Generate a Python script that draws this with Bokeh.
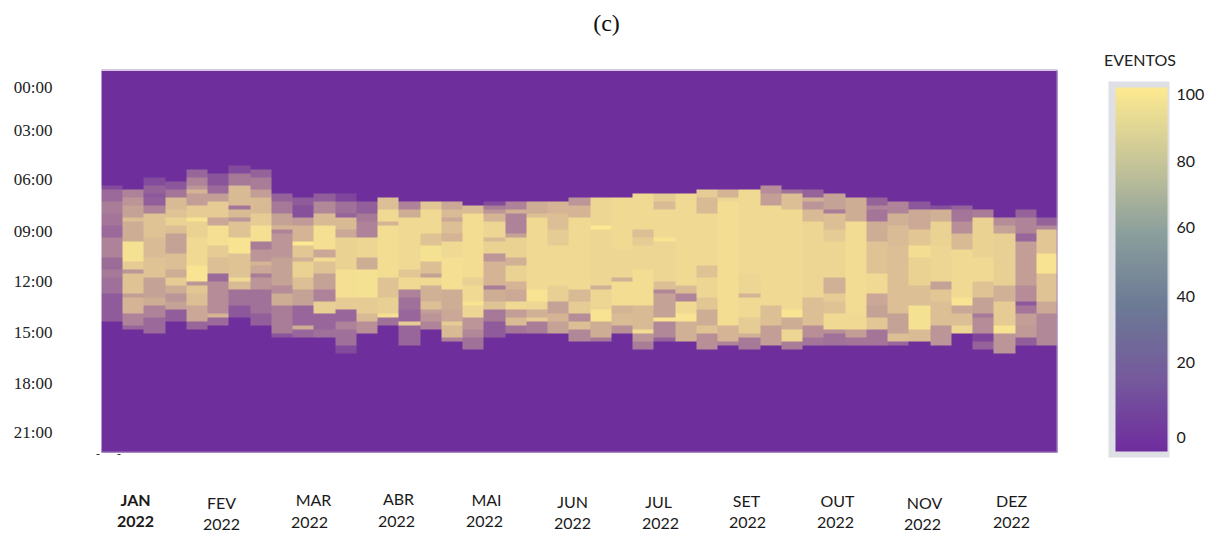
import numpy as np
from bokeh.plotting import figure
from bokeh.embed import file_html
from bokeh.resources import INLINE
from bokeh.core.properties import value
from bokeh.models import (Range1d, LinearColorMapper, ColorBar, FixedTicker, LinearAxis, ColumnDataSource)

# Each week column: first filled row (96 rows per day), then runs of (rows, events)
FIRST_ROW = [29,30,27,28,25,26,24,25,31,32,31,31,33,32,33,
             33,33,34,33,33,33,33,32,32,32,31,31,31,30,30,
             30,29,30,30,31,32,32,33,33,34,34,35,37,35,37]
W01=[(1,15),(3,32),(3,42),(3,38),(3,32),(5,45),(3,33),(2,40),(4,35),(7,24)]
W02=[(2,45),(2,55),(3,62),(1,78),(2,68),(3,68),(5,96),(2,85),(1,55),(5,80),(1,60),(4,72),(3,45),(1,30)]
W03=[(2,15),(2,28),(1,22),(2,26),(2,45),(6,80),(5,76),(5,80),(5,62),(2,68),(3,45),(4,32)]
W04=[(2,22),(2,38),(3,75),(2,80),(2,88),(2,78),(5,62),(4,78),(2,68),(2,84),(2,68),(2,55),(2,62),(3,25)]
W05=[(2,30),(2,45),(1,55),(1,72),(3,60),(3,85),(1,97),(4,88),(7,92),(4,98),(1,55),(2,82),(3,78),(4,65),(2,30)]
W06=[(3,20),(2,32),(2,60),(4,85),(2,65),(5,95),(3,85),(4,78),(2,32),(8,50),(1,72),(2,32)]
W07=[(2,15),(3,40),(5,75),(1,38),(2,75),(1,55),(4,80),(4,97),(6,80),(1,92),(2,75),(4,36),(3,22)]
W08=[(2,28),(3,42),(2,60),(4,75),(3,85),(4,95),(2,42),(3,55),(1,72),(2,65),(1,42),(3,55),(6,36),(3,26)]
W09=[(2,28),(3,40),(3,62),(1,72),(1,45),(6,55),(7,62),(2,50),(3,68),(7,42),(1,20)]
W10=[(2,24),(3,18),(2,58),(4,72),(1,100),(3,82),(1,70),(4,88),(3,78),(4,62),(5,30),(1,68),(2,30)]
W11=[(2,25),(3,48),(3,75),(6,95),(2,65),(1,93),(3,80),(4,62),(3,45),(3,86),(4,30),(2,35)]
W12=[(2,12),(3,35),(1,28),(3,75),(2,65),(8,88),(7,95),(3,85),(3,30),(2,45),(4,35),(2,15)]
W13=[(3,26),(2,40),(4,45),(5,90),(3,68),(7,96),(4,85),(2,75),(3,52)]
W14=[(3,78),(3,92),(1,72),(13,94),(5,80),(4,86),(1,95),(2,35)]
W15=[(2,45),(2,68),(13,92),(2,82),(3,92),(2,45),(3,35),(3,30),(1,85),(5,30)]
W16=[(2,82),(6,92),(3,80),(4,96),(3,78),(1,62),(2,92),(4,70),(2,78),(1,60),(2,55),(2,46)]
W17=[(2,65),(2,76),(1,65),(3,78),(2,72),(4,92),(8,95),(5,68),(3,65),(1,85),(3,75),(1,45)]
W18=[(2,76),(16,94),(2,86),(4,92),(1,97),(3,90),(3,55),(2,48),(3,36)]
W19=[(1,15),(1,42),(1,55),(2,72),(4,90),(1,75),(3,88),(2,56),(6,72),(1,42),(3,68),(2,80),(3,40),(4,24)]
W20=[(2,45),(1,70),(5,45),(1,62),(5,88),(2,70),(4,88),(2,72),(3,66),(2,92),(2,60),(2,75),(2,38)]
W21=[(3,68),(1,78),(18,92),(3,97),(2,90),(2,70),(1,85),(3,42)]
W22=[(3,72),(4,78),(4,84),(10,92),(4,86),(3,62),(2,72),(3,62)]
W23=[(2,55),(3,72),(18,92),(3,75),(3,84),(2,50),(2,78),(3,48)]
W24=[(7,90),(1,100),(14,90),(1,70),(5,90),(3,97),(4,68),(1,40)]
W25=[(13,92),(7,90),(1,70),(6,94),(2,72),(3,76),(2,52)]
W26=[(9,92),(2,78),(2,85),(6,90),(9,94),(6,75),(1,94),(2,55),(2,42)]
W27=[(2,84),(2,76),(7,92),(1,97),(10,90),(2,78),(1,48),(6,62),(1,97),(4,48),(1,28)]
W28=[(23,92),(2,76),(2,46),(3,92),(2,98),(5,70)]
W29=[(2,85),(4,75),(13,92),(3,80),(5,90),(3,82),(4,68),(2,80),(4,52)]
W30=[(2,72),(1,90),(31,94),(4,72),(1,45)]
W31=[(21,92),(5,90),(1,72),(5,92),(4,84),(1,70),(3,40)]
W32=[(2,50),(3,60),(25,92),(5,78),(5,60)]
W33=[(1,35),(4,78),(25,92),(2,98),(3,68),(3,90),(2,42)]
W34=[(2,28),(1,70),(2,55),(3,75),(19,90),(7,78),(3,52),(2,38)]
W35=[(4,62),(1,42),(4,78),(3,84),(9,90),(4,70),(2,85),(3,80),(4,92),(1,52),(3,36)]
W36=[(6,68),(23,93),(4,92),(2,60),(2,38)]
W37=[(2,28),(1,46),(3,38),(5,68),(8,80),(5,92),(3,65),(3,62),(3,82),(4,38)]
W38=[(3,46),(3,70),(5,76),(17,78),(5,62),(2,78),(1,30)]
W39=[(2,22),(5,66),(4,82),(3,94),(7,88),(5,78),(6,96),(3,76)]
W40=[(1,18),(3,70),(6,88),(9,90),(2,62),(3,82),(6,78),(5,55)]
W41=[(1,28),(3,38),(3,52),(4,75),(12,92),(2,97),(2,65),(3,78),(2,90)]
W42=[(2,42),(10,88),(6,92),(4,80),(4,62),(1,40),(4,50),(2,12),(2,28)]
W43=[(2,50),(2,62),(13,86),(4,70),(6,85),(2,97),(5,55)]
W44=[(2,28),(4,46),(2,30),(11,60),(4,50),(1,22),(2,38),(3,60),(3,58),(2,25)]
W45=[(2,28),(1,48),(6,82),(5,97),(7,80),(3,66),(8,48)]
WEEKS=[W01,W02,W03,W04,W05,W06,W07,W08,W09,W10,W11,W12,W13,W14,W15,W16,W17,W18,W19,W20,W21,W22,W23,
       W24,W25,W26,W27,W28,W29,W30,W31,W32,W33,W34,W35,W36,W37,W38,W39,W40,W41,W42,W43,W44,W45]

MONTHS=["JAN","FEV","MAR","ABR","MAI","JUN","JUL","SET","OUT","NOV","DEZ"]
YEAR="2022"
HOUR_LABELS=["00:00","03:00","06:00","09:00","12:00","15:00","18:00","21:00"]
# placement (separate from the data)
HOUR_ROWS=[4.27,15.08,27.4,40.45,53.0,65.8,78.6,91.0]
MONTH_X=[135,221,313,398,486,572,658,746,837,924,1011]
MONTH_Y=[498.5,501.5,498.5,497.5,498.5,500.5,500.5,499.5,499.5,501.5,499.5]
YEAR_X=[135,221,309,396,484,572,660,747,835,922,1011]
YEAR_Y=[521,524,522,521,521,523,523,522,522,524,522]
CBAR_TICKS=[0,22,41.5,61.5,81,100.5]
CBAR_LABELS=["0","20","40","60","80","100"]

N_ROWS,N_COLS=96,len(WEEKS)
grid=np.zeros((N_ROWS,N_COLS))
for c,(first,runs) in enumerate(zip(FIRST_ROW,WEEKS)):
    r=first
    for n,v in runs:
        grid[r:r+n,c]=v
        r+=n

def hexrgb(h): return np.array([int(h[i:i+2],16) for i in (1,3,5)],float)
def ramp(anchors,n=256):
    xs=np.linspace(0,1,len(anchors)); cols=np.array([hexrgb(a) for a in anchors])
    t=np.linspace(0,1,n)
    return ["#%02x%02x%02x"%tuple(int(round(np.interp(u,xs,cols[:,k]))) for k in range(3)) for u in t]

heat_palette=ramp(["#6e2f9d","#fbe892"])
bar_palette=ramp(["#6f2d9e","#755a9c","#6c7a95","#8b9f9c","#c8c698","#fde990"])

W,H=1216,536
FL,FR,FT,FB=101,1057,70,452
def dx(px): return (px-FL)*N_COLS/(FR-FL)
def dy(py): return (FB-py)*N_ROWS/(FB-FT)

p=figure(width=W,height=H,x_range=Range1d(dx(0),dx(W)),y_range=Range1d(dy(H),dy(0)),
         output_backend="svg",toolbar_location=None,tools="",
         x_axis_location=None,y_axis_location=None,
         min_border_left=0,min_border_right=0,min_border_top=0,min_border_bottom=0)
p.outline_line_color=None
p.grid.visible=False
mapper=LinearColorMapper(palette=heat_palette,low=0,high=100)
p.image(image=[grid[::-1]],x=0,y=0,dw=N_COLS,dh=N_ROWS,color_mapper=mapper)

# pale edges of the map
p.quad(left=dx(FL),right=dx(FR),top=dy(68.5),bottom=dy(70.5),fill_color="#d6c6e2",line_color=None)
p.quad(left=dx(FR-1),right=dx(FR),top=dy(FT),bottom=dy(FB),fill_color="#a98bc8",line_color=None)
p.quad(left=dx(FL),right=dx(FR),top=dy(FB-1),bottom=dy(FB),fill_color="#9a78bb",line_color=None)

ax=LinearAxis(fixed_location=0)
TICKS=[N_ROWS-r for r in HOUR_ROWS]
ax.ticker=FixedTicker(ticks=TICKS)
ax.major_label_overrides=dict(zip(TICKS,HOUR_LABELS))
ax.axis_line_color=None; ax.major_tick_line_color=None; ax.minor_tick_line_color=None
ax.major_label_text_font="Liberation Serif"; ax.major_label_text_font_size="17px"
ax.major_label_text_color="#222222"
ax.major_label_standoff=43
p.add_layout(ax,"left")

def lab(texts,xs,ys,font,size,style="normal",color="#1a1a1a"):
    src=ColumnDataSource(dict(x=[dx(v) for v in xs],y=[dy(v) for v in ys],t=texts))
    p.text(x="x",y="y",text="t",source=src,text_font=value(font),text_font_size=value(size),
           text_font_style=style,text_align="center",text_baseline="middle",text_color=color)
lab(MONTHS[:1],MONTH_X[:1],MONTH_Y[:1],"Lato","16px","bold")
lab(MONTHS[1:],MONTH_X[1:],MONTH_Y[1:],"Lato","16px")
lab([YEAR],YEAR_X[:1],YEAR_Y[:1],"Lato","16px","bold")
lab([YEAR]*10,YEAR_X[1:],YEAR_Y[1:],"Lato","16px")
lab(["(c)"],[606],[22],"Liberation Serif","24px",color="#111111")
lab(["EVENTOS"],[1139.5],[59],"Lato","16px",color="#222222")

p.quad(left=dx(1108),right=dx(1169),top=dy(81),bottom=dy(457),fill_color="#dfdfe6",line_color=None)
p.quad(left=[dx(96),dx(117)],right=[dx(99),dx(120)],top=dy(453.5),bottom=dy(454.5),fill_color="#333333",line_color=None)

bar_mapper=LinearColorMapper(palette=bar_palette,low=-4,high=102.6)
cb=ColorBar(color_mapper=bar_mapper,ticker=FixedTicker(ticks=CBAR_TICKS),
            major_label_overrides=dict(zip(CBAR_TICKS,CBAR_LABELS)),
            width=52,height=364,location=(1115,85),padding=0,margin=0,
            major_tick_line_color=None,minor_tick_line_color=None,bar_line_color=None,
            border_line_color=None,background_fill_alpha=0,label_standoff=9,
            major_label_text_font="Lato",major_label_text_font_size="16px",major_label_text_color="#1a1a1a")
p.add_layout(cb)

open("out.html","w").write(file_html(p,INLINE))
